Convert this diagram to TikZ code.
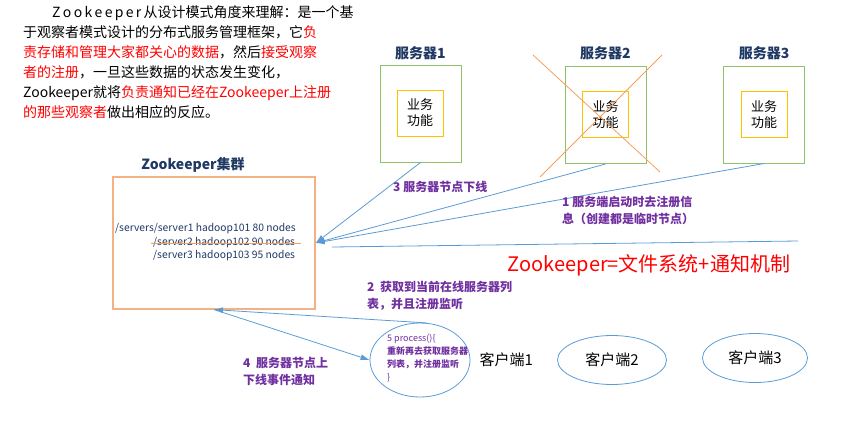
\documentclass[tikz,border=0pt]{standalone}
\usepackage{fontspec}
\setmainfont{Noto Sans CJK SC}
\usepackage{xcolor}
\definecolor{zkGreen}{HTML}{8DC26B}
\definecolor{zkYellow}{HTML}{FFC000}
\definecolor{zkOrange}{HTML}{F4B183}
\definecolor{zkCross}{HTML}{F5A05A}
\definecolor{zkBlue}{HTML}{5B9BD5}
\definecolor{zkNavy}{HTML}{1F3864}
\definecolor{zkPurple}{HTML}{7030A0}
\usepackage{tikz}
\usetikzlibrary{positioning,shapes.geometric,arrows.meta}
\tikzset{server/.style={draw=zkGreen, line width=1pt, minimum width=81pt, minimum height=97pt},inner sep=1pt}
\tikzset{func/.style={draw=zkYellow, line width=1pt, minimum width=46pt, minimum height=46pt, align=center, font=\fontsize{13}{16}\selectfont},inner sep=1pt}
\tikzset{srvtitle/.style={text=zkNavy, font=\fontsize{14}{16}\selectfont\bfseries},inner sep=1pt}
\tikzset{zkbox/.style={draw=zkOrange, line width=1.2pt, minimum width=202pt, minimum height=132pt},inner sep=1pt}
\tikzset{zknode/.style={anchor=west, text=zkNavy, font=\fontsize{10.3}{12}\selectfont},inner sep=0pt}
\tikzset{client/.style={ellipse, draw=zkBlue, line width=0.8pt, font=\fontsize{15}{17}\selectfont},inner sep=1pt}
\tikzset{note/.style={anchor=north west, align=left, text=zkPurple, font=\fontsize{12}{17}\selectfont\bfseries},inner sep=0pt}
\tikzset{link/.style={draw=zkBlue, line width=0.8pt, -{Latex[length=9pt,width=6pt]}}}
\tikzset{cross/.style={draw=zkCross, line width=0.8pt}}
\newcommand{\hot}[1]{\textcolor{red}{#1}}

\begin{document}
\begin{tikzpicture}[x=1pt,y=-1pt,node distance=6pt]
\useasboundingbox (0,0) rectangle (850,432);
%--------------------
% the description
%--------------------
\node[anchor=north west, align=left, inner sep=0pt, font=\fontsize{14}{20}\selectfont](intro) at (23,5){%
\hspace*{29pt}Z\,o\,o\,k\,e\,e\,p\,e\,r\,从设计模式角度来理解：是一个基\\
于观察者模式设计的分布式服务管理框架，它\hot{负}\\
\hot{责存储和管理大家都关心的数据}，然后\hot{接受观察}\\
\hot{者的注册}，一旦这些数据的状态发生变化，\\
Zookeeper就将\hot{负责通知已经在Zookeeper上注册}\\
\hot{的那些观察者}做出相应的反应。};

%--------------------
% the servers
%--------------------
\node[server](srv1) at (420.5,113.5){};
\node[func](fn1) at (420,113){业务\\功能};
\node[srvtitle](st1)[above=4pt of srv1]{服务器1};
\node[server](srv2) at (605.5,115){};
\node[func](fn2) at (605.5,114.5){业务\\功能};
\node[srvtitle](st2)[above=6pt of srv2]{服务器2};
\node[server](srv3) at (764,114.5){};
\node[func](fn3) at (764,114.5){业务\\功能};
\node[srvtitle](st3)[above=5pt of srv3]{服务器3};
\draw[cross] (533,55) -- (660,172);
\draw[cross] (662,55) -- (540,177);

%--------------------
% the zookeeper cluster
%--------------------
\node[zkbox](zk) at (214,243){};
\node[srvtitle](zkt) at (193,165){Zookeeper集群};
\node[zknode](path1) at (115,229){/servers/server1 hadoop101 80 nodes};
\node[zknode](path2) at (153,243){/server2 hadoop102 90 nodes};
\node[zknode](path3) at (153,256){/server3 hadoop103 95 nodes};
\draw[draw=zkCross, line width=0.9pt] ([xshift=-2pt]path2.west) -- ([xshift=6pt]path2.east);

%--------------------
% servers register
%--------------------
\draw[link] (srv1.south) -- (zk.east);
\draw[link] (srv2.south) -- (zk.east);
\draw[link] (srv3.south) -- (zk.east);
\node[note](n3) at (393,181){3 服务器节点下线};
\node[note](n1) at (562,196){1 服务端启动时去注册信\\息（创建都是临时节点）};
\coordinate (sepR) at (798,241);
\coordinate (sepL) at (332,247);
\draw[draw=zkBlue, line width=0.8pt] (sepR) -- (sepL);
\node[text=red, font=\fontsize{20}{22}\selectfont](motto) at (649,265){Zookeeper=文件系统+通知机制};

%--------------------
% the clients
%--------------------
\node[client, minimum width=100pt, minimum height=74pt](c1) at (420,360){};
\node[anchor=west, align=left, inner sep=0pt, text=zkPurple, font=\fontsize{9}{13}\selectfont](proc) at (387,358){5 process()\{\\ \textbf{重新再去获取服务器}\\ \textbf{列表，并注册监听}\\ \}};
\node[anchor=west, inner sep=0pt, font=\fontsize{15}{17}\selectfont](cl1)[right=9pt of c1]{客户端1};
\node[client, minimum width=109pt, minimum height=49pt](c2) at (612,360){客户端2};
\node[client, minimum width=105pt, minimum height=49pt](c3) at (755,358){客户端3};
\draw[link] (c1.80) -- (zk.south);
\draw[link] (zk.south) -- (c1.west);
\node[note](n2) at (367,281){2\ \ 获取到当前在线服务器列\\表，并且注册监听};
\node[note](n4) at (243,357){4\ \ 服务器节点上\\下线事件通知};
\end{tikzpicture}
\end{document}
